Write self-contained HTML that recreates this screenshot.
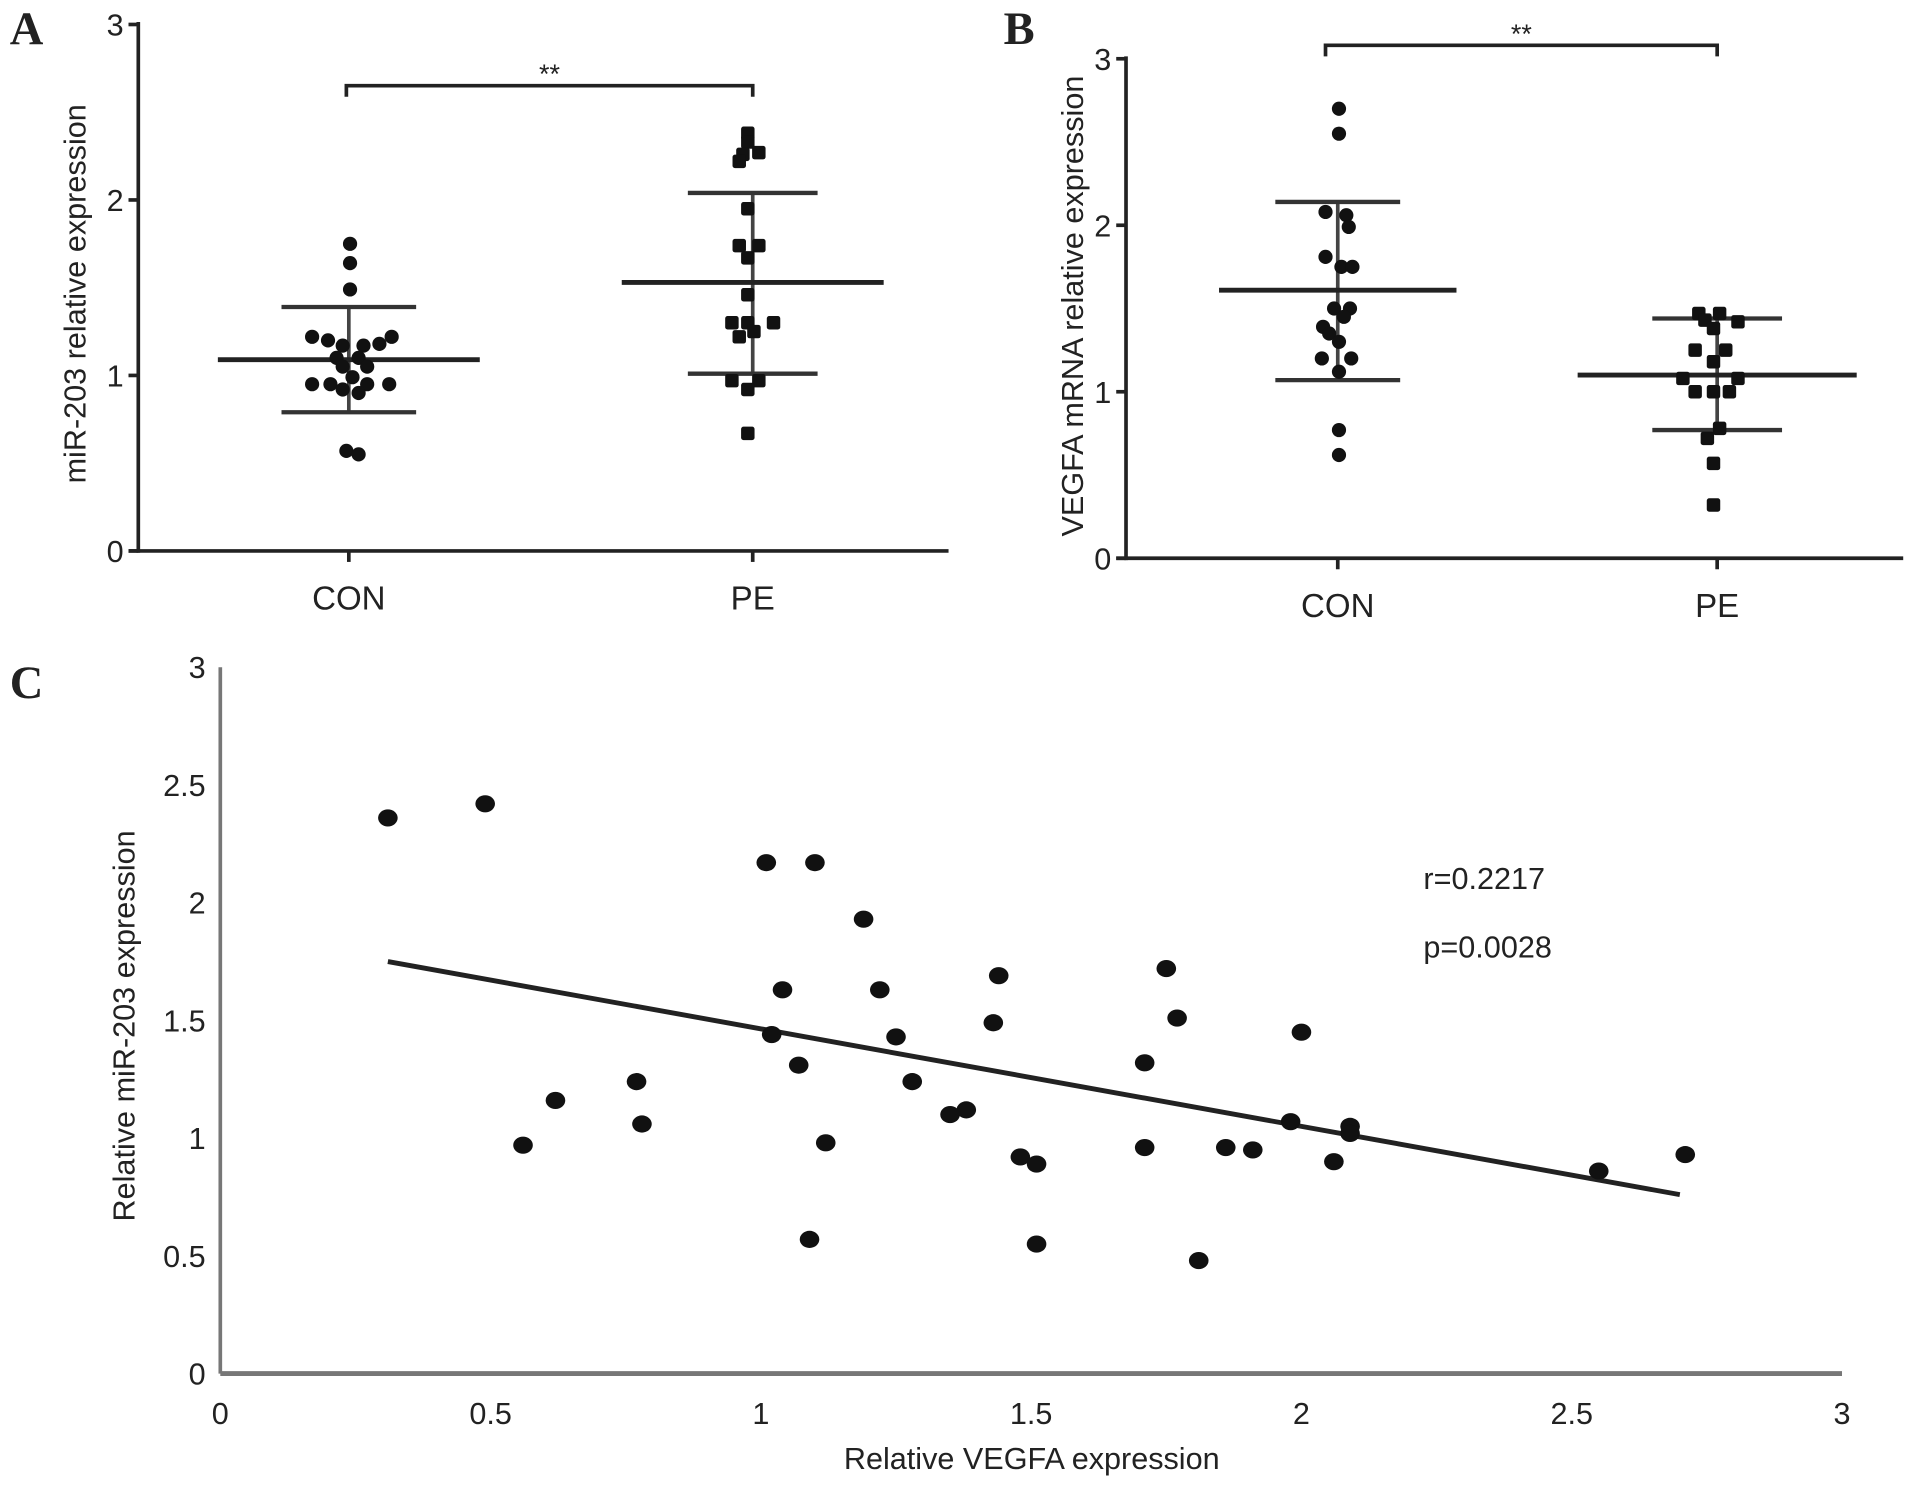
<!DOCTYPE html>
<html><head><meta charset="utf-8"><style>
html,body{margin:0;padding:0;background:#fff}
svg{display:block}
text{font-family:"Liberation Sans",sans-serif;fill:#222}
</style></head><body>
<svg id="fig" width="1913" height="1485" viewBox="0 0 1563 1213" preserveAspectRatio="none" xmlns="http://www.w3.org/2000/svg">
<text x="8" y="36" style="font-family:'Liberation Serif',serif;font-weight:bold;font-size:38px">A</text>
<text x="820" y="36" style="font-family:'Liberation Serif',serif;font-weight:bold;font-size:38px">B</text>
<text x="8" y="570" style="font-family:'Liberation Serif',serif;font-weight:bold;font-size:38px">C</text>
</svg>
<script>
// Panel A data
const aCon = [1.75,1.64,1.49,1.22,1.20,1.22,1.17,1.17,1.18,1.10,1.10,1.05,1.05,0.99,0.95,0.95,0.95,0.95,0.92,0.90,0.57,0.55];
const aConJit = [1,1,1,-30,-17,35,-5,12,25,-10,8,-5,15,3,-30,-15,15,33,-5,8,-2,8];
const aPe = [2.38,2.33,2.26,2.27,2.22,1.95,1.74,1.74,1.67,1.46,1.30,1.30,1.30,1.22,1.25,0.97,0.97,0.92,0.67];
const aPeJit = [-4,-4,-8,5,-11,-4,-11,5,-4,-4,-17,-4,17,-11,1,-17,5,-4,-4];
const aStats = {con:{mean:1.09,lo:0.79,hi:1.39}, pe:{mean:1.53,lo:1.01,hi:2.04}};
// Panel B data
const bCon = [2.70,2.55,2.08,2.06,1.99,1.81,1.75,1.75,1.50,1.50,1.39,1.45,1.35,1.30,1.20,1.20,1.12,0.77,0.62];
const bConJit = [1,1,-10,7,9,-10,3,12,-3,10,-12,5,-7,1,-13,11,1,1,1];
const bPe = [1.47,1.47,1.43,1.42,1.38,1.25,1.25,1.18,1.08,1.08,1.00,1.00,1.00,0.78,0.72,0.57,0.32];
const bPeJit = [-15,2,-10,17,-3,-18,7,-3,-28,17,-18,-3,10,2,-8,-3,-3];
const bStats = {con:{mean:1.61,lo:1.07,hi:2.14}, pe:{mean:1.10,lo:0.77,hi:1.44}};
const groupLabels = ["CON","PE"];
const yTicksAB = [0,1,2,3];
// Panel C data
const cX = [0.31,0.49,0.56,0.62,0.77,0.78,1.01,1.10,1.19,1.04,1.22,1.02,1.25,1.07,1.28,1.12,1.09,1.35,1.38,1.44,1.43,1.48,1.51,1.51,1.75,1.77,1.71,1.71,1.81,1.86,1.91,2.00,1.98,2.09,2.09,2.06,2.55,2.71];
const cY = [2.36,2.42,0.97,1.16,1.24,1.06,2.17,2.17,1.93,1.63,1.63,1.44,1.43,1.31,1.24,0.98,0.57,1.10,1.12,1.69,1.49,0.92,0.89,0.55,1.72,1.51,1.32,0.96,0.48,0.96,0.95,1.45,1.07,1.05,1.02,0.90,0.86,0.93];
const cFit = [[0.31,1.75],[2.70,0.76]];
const cTicks = [0,0.5,1,1.5,2,2.5,3];
const cTickLabels = ["0","0.5","1","1.5","2","2.5","3"];

const svg = document.getElementById('fig');
const NS = 'http://www.w3.org/2000/svg';
function mk(tag, attrs, txt){const e=document.createElementNS(NS,tag);for(const k in attrs)e.setAttribute(k,attrs[k]);if(txt!==undefined)e.textContent=txt;svg.appendChild(e);return e;}
function line(x1,y1,x2,y2,w,c){return mk('line',{x1,y1,x2,y2,stroke:c||'#222','stroke-width':w||3});}

function panel(cfg){
  const yS = v => cfg.y0 - v*(cfg.y0-cfg.y3)/3;
  let e = line(cfg.ax, cfg.y3-2, cfg.ax, cfg.y0+1.5, 3);
   
  e = line(cfg.ax-8, cfg.y0, cfg.xEnd, cfg.y0, 3);
   
  yTicksAB.forEach(t=>{
    e = line(cfg.ax-8, yS(t), cfg.ax, yS(t), 3);
     
    e = mk('text',{x:cfg.ax-12,y:yS(t)+9,'text-anchor':'end','font-size':25}, String(t));
     
  });
  [cfg.xc, cfg.xp].forEach((x,i)=>{
    e = line(x, cfg.y0, x, cfg.y0+9, 3);
     
    e = mk('text',{x:x,y:cfg.y0+48,'text-anchor':'middle','font-size':27}, groupLabels[i]);
     
  });
  e = mk('text',{x:cfg.ylx,y:cfg.yly,'text-anchor':'middle','font-size':25,transform:`rotate(-90 ${cfg.ylx} ${cfg.yly})`}, cfg.ylabel);
   
  e = mk('path',{d:`M${cfg.bx1},${cfg.by+9}V${cfg.by}H${cfg.bx2}V${cfg.by+9}`,fill:'none',stroke:'#222','stroke-width':3});
   
  e = mk('text',{x:(cfg.bx1+cfg.bx2)/2,y:cfg.by-2,'text-anchor':'middle','font-size':22}, '**');
   
  [['con',cfg.xc,cfg.con,cfg.conJit,false,cfg.stats.con,cfg.meanW[0],cfg.sdW[0]],['pe',cfg.xp,cfg.pe,cfg.peJit,cfg.peSquare,cfg.stats.pe,cfg.meanW[1],cfg.sdW[1]]].forEach(g=>{
    const [name,x,vals,jit,sq,st,mw,sw]=g;
    e = line(x, yS(st.lo), x, yS(st.hi), 3, '#444');
     
    e = line(x-sw, yS(st.lo), x+sw, yS(st.lo), 3.5, '#333');
     
    e = line(x-sw, yS(st.hi), x+sw, yS(st.hi), 3.5, '#333');
     
    e = line(x-mw, yS(st.mean), x+mw, yS(st.mean), 4, '#222');
     
    vals.forEach((v,i)=>{
      const px = x + jit[i], py = yS(v);
      if(sq){ e = mk('rect',{x:px-5.5,y:py-5.5,width:11,height:11,rx:2,fill:'#111'}); }
      else { e = mk('circle',{cx:px,cy:py,r:5.8,fill:'#111'}); }
       
    });
  });
}
panel({id:'a',ax:113,y0:450,y3:20,xEnd:775,xc:285,xp:615,ylx:70,yly:240,ylabel:'miR-203 relative expression',bx1:283,bx2:615,by:70,
  con:aCon,conJit:aConJit,pe:aPe,peJit:aPeJit,peSquare:true,stats:aStats,meanW:[107,107],sdW:[55,53]});
panel({id:'b',ax:920,y0:456,y3:48,xEnd:1555,xc:1093,xp:1403,ylx:885,yly:250,ylabel:'VEGFA mRNA relative expression',bx1:1083,bx2:1403,by:37,
  con:bCon,conJit:bConJit,pe:bPe,peJit:bPeJit,peSquare:true,stats:bStats,meanW:[97,114],sdW:[51,53]});

const cx0=180, cx3=1505, cy0=1122, cy3=545;
const xS = v => cx0 + v*(cx3-cx0)/3;
const yC = v => cy0 - v*(cy0-cy3)/3;
let e = line(cx0, cy3, cx0, cy0, 3, '#777');
 
e = line(cx0, cy0, cx3, cy0, 4, '#777');
 
cTicks.forEach((t,i)=>{
  e = mk('text',{x:168,y:yC(t)+9,'text-anchor':'end','font-size':25}, cTickLabels[i]);
   
  e = mk('text',{x:xS(t),y:1163,'text-anchor':'middle','font-size':25}, cTickLabels[i]);
   
});
e = mk('text',{x:843,y:1200,'text-anchor':'middle','font-size':25}, 'Relative VEGFA expression');
 
e = mk('text',{x:110,y:838,'text-anchor':'middle','font-size':25,transform:'rotate(-90 110 838)'}, 'Relative miR-203 expression');
 
e = line(xS(cFit[0][0]), yC(cFit[0][1]), xS(cFit[1][0]), yC(cFit[1][1]), 4, '#222');
 
cX.forEach((v,i)=>{
  e = mk('ellipse',{cx:xS(v),cy:yC(cY[i]),rx:8,ry:7,fill:'#111'});
   
});
e = mk('text',{x:1163,y:726,'font-size':25}, 'r=0.2217');
 
e = mk('text',{x:1163,y:782,'font-size':25}, 'p=0.0028');
 
</script>
</body></html>
